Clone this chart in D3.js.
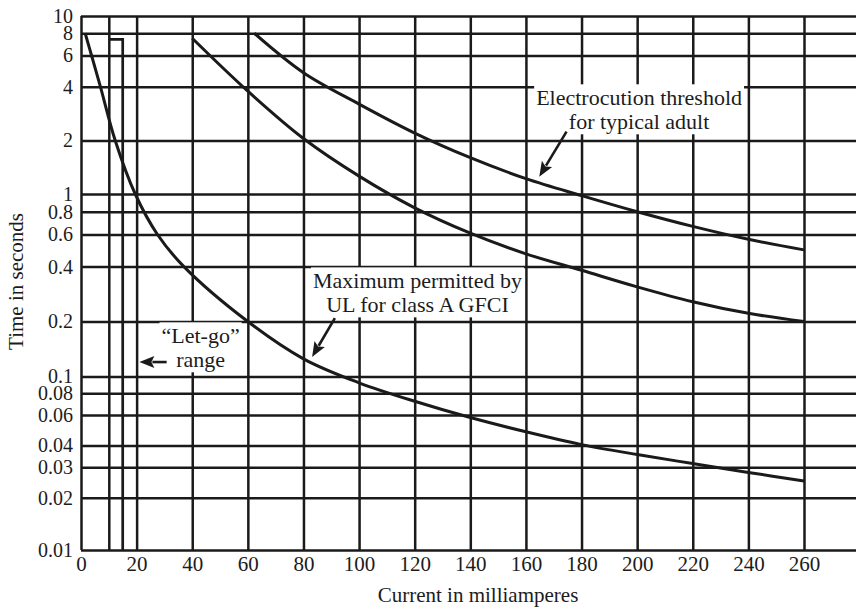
<!DOCTYPE html>
<html>
<head>
<meta charset="utf-8">
<script src="https://cdn.jsdelivr.net/npm/d3@7"></script>
<style>
  html, body { margin: 0; padding: 0; background: #fff; }
  svg { display: block; }
  text { font-family: "Liberation Serif", "Times New Roman", serif; fill: #1c1c1c; }
</style>
</head>
<body>
<svg id="chart" width="856" height="610"></svg>
<script>
// ---- data ----
const xTicks = [0, 10, 20, 40, 60, 80, 100, 120, 140, 160, 180, 200, 220, 240, 260];
const xTickLabels = ["0", "", "20", "40", "60", "80", "100", "120", "140", "160", "180", "200", "220", "240", "260"];
const yTicks = [0.01, 0.02, 0.03, 0.04, 0.06, 0.08, 0.1, 0.2, 0.4, 0.6, 0.8, 1, 2, 4, 6, 8, 10];
const yTickLabels = ["0.01", "0.02", "0.03", "0.04", "0.06", "0.08", "0.1", "0.2", "0.4", "0.6", "0.8", "1", "2", "4", "6", "8", "10"];

// Maximum permitted by UL for class A GFCI
const gfciCurrent = [1.5, 3.8, 7.0, 12.3, 19.5, 27.5, 37, 60, 80, 100, 120, 140, 160, 180, 200, 220, 240, 260];
const gfciTime    = [8, 6, 4, 2, 1, 0.6, 0.4, 0.2, 0.125, 0.092, 0.072, 0.058, 0.048, 0.0405, 0.0355, 0.0315, 0.028, 0.025];

// middle (unlabelled) curve
const midCurrent = [40, 60, 80, 100, 120, 140, 160, 180, 200, 220, 240, 260];
const midTime    = [7.5, 3.78, 2.05, 1.26, 0.84, 0.61, 0.47, 0.382, 0.31, 0.257, 0.222, 0.2];

// Electrocution threshold for typical adult
const adultCurrent = [62.3, 80, 100, 120, 140, 160, 180, 200, 220, 240, 260];
const adultTime    = [8, 4.8, 3.2, 2.2, 1.6, 1.22, 0.98, 0.8, 0.665, 0.565, 0.494];

// "Let-go" range (mA) and its top (s)
const letGoRange = [10, 15];
const letGoTop = 7.4;

// annotations (data units)
const adultLabel = ["Electrocution threshold", "for typical adult"];
const adultLabelAt = [200.7, 3.15];
const adultArrow = [[174.6, 2.24], [164.8, 1.25]];

const gfciLabel = ["Maximum permitted by", "UL for class A GFCI"];
const gfciLabelAt = [121.0, 0.304];
const gfciArrow = [[91.3, 0.209], [83.1, 0.128]];

const letGoLabel = ["\u201CLet-go\u201D", "range"];
const letGoLabelAt = [43.0, 0.152];
const letGoArrow = [[30.8, 0.12], [21.0, 0.12]];

const xTitle = "Current in milliamperes";
const yTitle = "Time in seconds";

// ---- layout ----
const W = 856, H = 610;
const mLeft = 81, mRight = 804, mTop = 16, mBottom = 550, gridRight = 856;
const ink = "#1a1a1a";

const svg = d3.select("#chart");
svg.append("rect").attr("width", W).attr("height", H).attr("fill", "#fff");

const x = d3.scaleLinear().domain([0, 260]).range([mLeft, mRight]);
const y = d3.scaleLog().domain([10, 1, 0.1, 0.01]).range([mTop, 194, 376.5, mBottom]);

// horizontal grid + y labels
const yAxis = d3.axisLeft(y)
  .tickValues(yTicks)
  .tickFormat((d, i) => yTickLabels[i])
  .tickSize(-(gridRight - mLeft))
  .tickPadding(8);
const gy = svg.append("g").attr("transform", `translate(${mLeft},0)`).call(yAxis);
gy.select(".domain").remove();
gy.selectAll(".tick line").attr("stroke", ink).attr("stroke-width", 2.5);
gy.selectAll(".tick text").attr("font-size", 20).attr("fill", ink)
  .style("font-family", '"Liberation Serif", serif');

// vertical grid + x labels
const xAxis = d3.axisBottom(x)
  .tickValues(xTicks)
  .tickFormat((d, i) => xTickLabels[i])
  .tickSize(-(mBottom - mTop))
  .tickPadding(6);
const gx = svg.append("g").attr("transform", `translate(0,${mBottom})`).call(xAxis);
gx.select(".domain").remove();
gx.selectAll(".tick line").attr("stroke", ink).attr("stroke-width", 2.5);
gx.selectAll(".tick text").attr("font-size", 21).attr("fill", ink)
  .style("font-family", '"Liberation Serif", serif');

// let-go box
const lg = d3.path();
lg.moveTo(x(letGoRange[0]), y(letGoTop));
lg.lineTo(x(letGoRange[1]), y(letGoTop));
lg.lineTo(x(letGoRange[1]), y(0.01));
svg.append("path").attr("d", lg.toString()).attr("fill", "none")
  .attr("stroke", ink).attr("stroke-width", 2.7).attr("stroke-linejoin", "miter");

// curves
const line = d3.line().x(d => x(d[0])).y(d => y(d[1])).curve(d3.curveCatmullRom.alpha(0.5));
function drawCurve(cs, ts) {
  const pts = cs.map((c, i) => [c, ts[i]]);
  svg.append("path").attr("d", line(pts)).attr("fill", "none")
    .attr("stroke", ink).attr("stroke-width", 3).attr("stroke-linecap", "butt");
}
drawCurve(gfciCurrent, gfciTime);
drawCurve(midCurrent, midTime);
drawCurve(adultCurrent, adultTime);

// labels with white boxes
function label(lines, at) {
  const g = svg.append("g");
  const t = g.append("text")
    .attr("x", x(at[0])).attr("y", y(at[1]))
    .attr("text-anchor", "middle").attr("font-size", 22);
  lines.forEach((s, i) => {
    t.append("tspan").attr("x", x(at[0])).attr("dy", i === 0 ? 0 : 24).text(s);
  });
  const bb = t.node().getBBox();
  g.insert("rect", "text")
    .attr("x", bb.x - 2).attr("y", bb.y - 1)
    .attr("width", bb.width + 4).attr("height", bb.height + 1)
    .attr("fill", "#fff");
}
label(adultLabel, adultLabelAt);
label(gfciLabel, gfciLabelAt);
label(letGoLabel, letGoLabelAt);

// arrows
function arrow(a) {
  const x0 = x(a[0][0]), y0 = y(a[0][1]), x1 = x(a[1][0]), y1 = y(a[1][1]);
  const dx = x1 - x0, dy = y1 - y0, L = Math.hypot(dx, dy);
  const ux = dx / L, uy = dy / L;
  const headL = 15, headW = 6;
  const bx = x1 - ux * headL, by = y1 - uy * headL;
  svg.append("line").attr("x1", x0).attr("y1", y0)
    .attr("x2", bx + ux * 2).attr("y2", by + uy * 2)
    .attr("stroke", ink).attr("stroke-width", 2.6);
  const p = d3.path();
  p.moveTo(x1, y1);
  p.lineTo(bx - uy * headW, by + ux * headW);
  p.lineTo(bx + ux * 3, by + uy * 3);
  p.lineTo(bx + uy * headW, by - ux * headW);
  p.closePath();
  svg.append("path").attr("d", p.toString()).attr("fill", ink);
}
arrow(adultArrow);
arrow(gfciArrow);
arrow(letGoArrow);

// axis titles
svg.append("text").attr("x", 478).attr("y", 602).attr("text-anchor", "middle")
  .attr("font-size", 21).text(xTitle);
svg.append("text").attr("transform", "translate(22.7,281.5) rotate(-90)")
  .attr("text-anchor", "middle").attr("font-size", 21).text(yTitle);
</script>
</body>
</html>
